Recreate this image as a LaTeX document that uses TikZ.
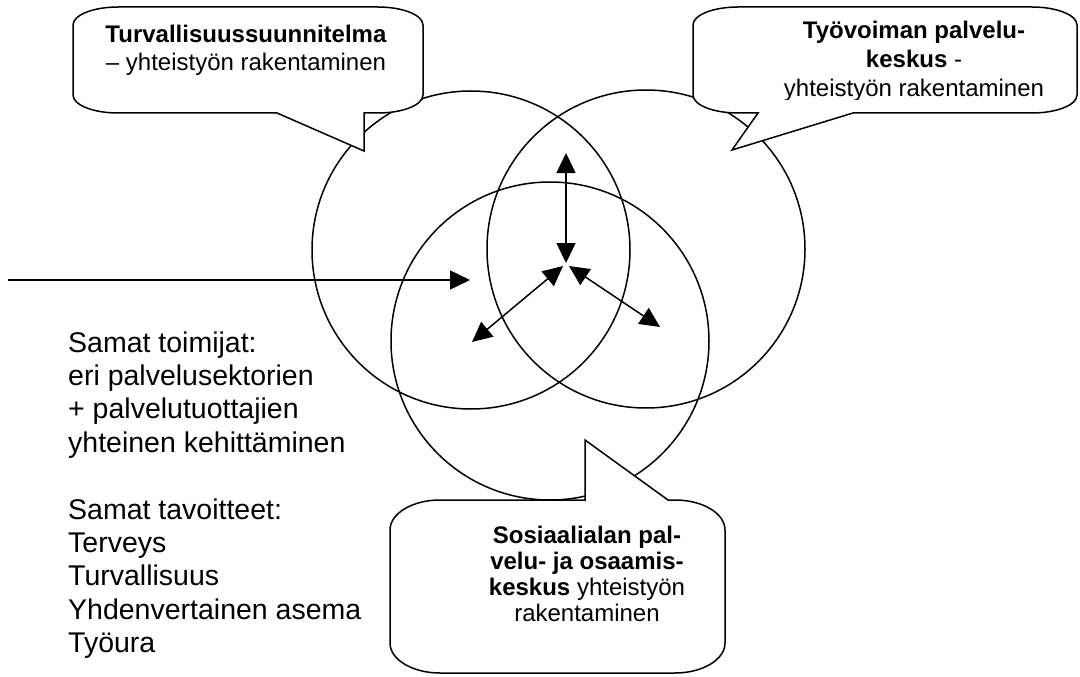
\documentclass[tikz,border=0pt]{standalone}
\usepackage{fontspec}
\setmainfont{Liberation Sans}
\usetikzlibrary{arrows.meta}
\tikzset{
  circ/.style={draw, circle, line width=1.5pt, minimum size=318pt, inner sep=0pt},
  callout/.style={draw, fill=white, line width=1.5pt, line join=miter},
  arr/.style={line width=1.5pt, -{Triangle[length=20pt,width=19pt]}},
  darr/.style={line width=1.5pt, {Triangle[length=20pt,width=19pt]}-{Triangle[length=20pt,width=19pt]}},
  ctxt/.style={anchor=base, inner sep=0pt, font=\fontsize{24}{28}\selectfont},
  ltxt/.style={anchor=base west, inner sep=0pt, font=\fontsize{28.5}{33}\selectfont}
}
\begin{document}
\begin{tikzpicture}[x=1pt, y=-1pt]
\useasboundingbox (0,0) rectangle (1080,677);
% circles
\node[circ] (cL) at (471,250) {};
\node[circ] (cR) at (646,249) {};
\node[circ] (cB) at (550,341) {};
% arrows
\coordinate (hs) at (8,280);
\coordinate (he) at (470,280);
\draw[arr] (hs) -- (he);
\coordinate (vT) at (566,153);
\coordinate (vB) at (566,263);
\draw[darr] (vT) -- (vB);
\coordinate (lC) at (563,266);
\coordinate (lE) at (472,342);
\draw[darr] (lC) -- (lE);
\coordinate (rC) at (569,266);
\coordinate (rE) at (660,327);
\draw[darr] (rC) -- (rE);
% callout top-left
\path[callout] (118,7) -- (378,7) arc[start angle=90,end angle=0,x radius=45pt,y radius=18pt]
  -- (423,95) arc[start angle=0,end angle=-90,x radius=45pt,y radius=18pt]
  -- (364,113) -- (364,151) -- (277,113) -- (118,113)
  arc[start angle=270,end angle=180,x radius=45pt,y radius=18pt]
  -- (73,25) arc[start angle=180,end angle=90,x radius=45pt,y radius=18pt] -- cycle;
% callout top-right
\path[callout] (738,7) -- (1032,7) arc[start angle=90,end angle=0,x radius=45pt,y radius=18pt]
  -- (1077,95) arc[start angle=0,end angle=-90,x radius=45pt,y radius=18pt]
  -- (853,113) -- (732,150) -- (758,113) -- (738,113)
  arc[start angle=270,end angle=180,x radius=45pt,y radius=18pt]
  -- (693,25) arc[start angle=180,end angle=90,x radius=45pt,y radius=18pt] -- cycle;
% callout bottom
\path[callout] (440,500) -- (585,500) -- (585,440) -- (668,500) -- (675,500)
  arc[start angle=90,end angle=0,x radius=50pt,y radius=30pt]
  -- (725,643) arc[start angle=0,end angle=-90,x radius=50pt,y radius=30pt]
  -- (440,673) arc[start angle=270,end angle=180,x radius=50pt,y radius=30pt]
  -- (390,530) arc[start angle=180,end angle=90,x radius=50pt,y radius=30pt] -- cycle;
% callout texts
\node[ctxt] (tl1) at (246,43) {\textbf{Turvallisuussuunnitelma}};
\node[ctxt] (tl2) at (246,71) {– yhteistyön rakentaminen};
\node[ctxt] (tr1) at (914,39) {\textbf{Työvoiman palvelu-}};
\node[ctxt] (tr2) at (914,68) {\textbf{keskus} -};
\begin{scope}
\clip (693,7) rectangle (1078,100);
\node[ctxt] (tr3) at (914,97) {yhteistyön rakentaminen};
\end{scope}
\node[ctxt] (b1) at (587,543) {\textbf{Sosiaalialan pal-}};
\node[ctxt] (b2) at (587,569) {\textbf{velu- ja osaamis-}};
\node[ctxt] (b3) at (587,595) {\textbf{keskus} yhteistyön};
\node[ctxt] (b4) at (587,621) {rakentaminen};
% left text
\node[ltxt] (l1) at (68,352) {Samat toimijat:};
\node[ltxt] (l2) at (68,385.4) {eri palvelusektorien};
\node[ltxt] (l3) at (68,418.8) {+ palvelutuottajien};
\node[ltxt] (l4) at (68,452.2) {yhteinen kehittäminen};
\node[ltxt] (l5) at (68,519) {Samat tavoitteet:};
\node[ltxt] (l6) at (68,552.4) {Terveys};
\node[ltxt] (l7) at (68,585.8) {Turvallisuus};
\node[ltxt] (l8) at (68,619.2) {Yhdenvertainen asema};
\node[ltxt] (l9) at (68,652.6) {Työura};
\end{tikzpicture}
\end{document}
